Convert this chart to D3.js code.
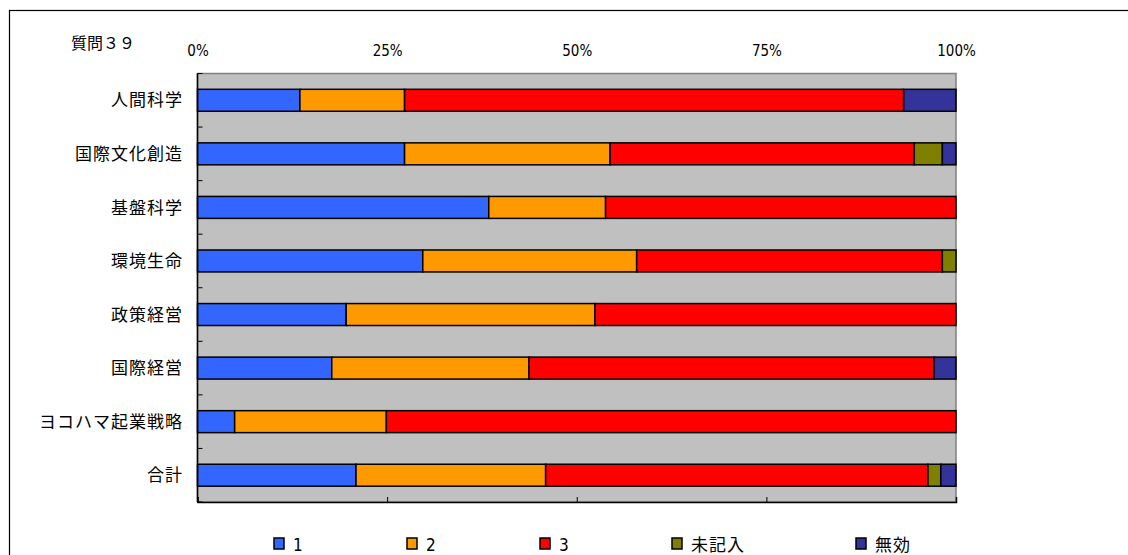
<!DOCTYPE html>
<html>
<head>
<meta charset="utf-8">
<script src="https://cdn.jsdelivr.net/npm/d3@7"></script>
<style>
  html, body { margin: 0; padding: 0; background: #fff; }
  svg { display: block; }
  .jp { font-family: "Noto Sans CJK JP", "Noto Sans", sans-serif; fill: #000; }
  .num { font-family: "DejaVu Sans Condensed", "DejaVu Sans", sans-serif; font-stretch: condensed; fill: #000; }
</style>
</head>
<body>
<svg id="chart" width="1128" height="555"></svg>
<script>
// 質問39: 学部別の回答割合 (%)
const title = "質問３９";
const categories = ["人間科学", "国際文化創造", "基盤科学", "環境生命", "政策経営", "国際経営", "ヨコハマ起業戦略", "合計"];
const seriesKeys = ["1", "2", "3", "未記入", "無効"];
const answer1   = [13.5, 27.3, 38.4, 29.7, 19.6, 17.7,  4.9, 20.9];
const answer2   = [13.8, 27.1, 15.4, 28.2, 32.8, 26.0, 20.0, 25.0];
const answer3   = [65.8, 40.1, 46.2, 40.3, 47.6, 53.4, 75.1, 50.4];
const noAnswer  = [ 0.0,  3.7,  0.0,  1.8,  0.0,  0.0,  0.0,  1.7];
const invalid   = [ 6.9,  1.8,  0.0,  0.0,  0.0,  2.9,  0.0,  2.0];
const tickValues = [0, 25, 50, 75, 100];
const tickLabels = ["0%", "25%", "50%", "75%", "100%"];

const colors = ["#3366FF", "#FF9900", "#FF0000", "#808000", "#333399"];

// rows for d3.stack
const seriesValues = [answer1, answer2, answer3, noAnswer, invalid];
const rows = categories.map((c, i) => {
  const r = { category: c };
  seriesKeys.forEach((k, j) => { r[k] = seriesValues[j][i]; });
  return r;
});

const svg = d3.select("#chart");

// outer frame
svg.append("rect")
  .attr("x", 9.5).attr("y", 10.5)
  .attr("width", 1140).attr("height", 560)
  .attr("fill", "none").attr("stroke", "#000").attr("stroke-width", 1.2);

const plot = { left: 197.5, right: 956, top: 73.5, bottom: 502 };

const x = d3.scaleLinear().domain([0, 100]).range([plot.left, plot.right]);
const y = d3.scaleBand().domain(categories)
  .range([plot.top, plot.bottom])
  .paddingInner(0.59).paddingOuter(0.295);

// plot background
svg.append("rect")
  .attr("x", plot.left).attr("y", plot.top)
  .attr("width", plot.right - plot.left).attr("height", plot.bottom - plot.top)
  .attr("fill", "#C0C0C0").attr("stroke", "#808080").attr("stroke-width", 1.5);

// stacked bars
const stacked = d3.stack().keys(seriesKeys)(rows);
svg.append("g").selectAll("g")
  .data(stacked)
  .join("g")
  .attr("fill", (d, i) => colors[i])
  .selectAll("rect")
  .data(d => d.filter(p => p[1] - p[0] > 0))
  .join("rect")
  .attr("x", d => x(d[0]))
  .attr("y", d => y(d.data.category))
  .attr("width", d => x(d[1]) - x(d[0]))
  .attr("height", y.bandwidth())
  .attr("stroke", "#000")
  .attr("stroke-width", 1.5);

// category boundary ticks on the left axis (pointing inward)
const step = y.step();
const boundaries = d3.range(categories.length + 1).map(i => plot.top + i * step);
svg.append("g").selectAll("line")
  .data(boundaries)
  .join("line")
  .attr("x1", plot.left).attr("x2", plot.left + 5)
  .attr("y1", d => d).attr("y2", d => d)
  .attr("stroke", "#000").attr("stroke-width", 1);

// left axis line
svg.append("line")
  .attr("x1", plot.left).attr("x2", plot.left)
  .attr("y1", plot.top).attr("y2", plot.bottom)
  .attr("stroke", "#000").attr("stroke-width", 1.5);

// bottom axis with inward ticks
const bottomAxis = d3.axisBottom(x).tickValues(tickValues).tickSize(-5).tickFormat("");
const gb = svg.append("g").attr("transform", `translate(0,${plot.bottom})`).call(bottomAxis);
gb.select(".domain").attr("stroke", "#000").attr("stroke-width", 1.5);
gb.selectAll(".tick line").attr("stroke", "#000");

// top percentage labels
const topAxis = d3.axisTop(x).tickValues(tickValues).tickSize(0)
  .tickFormat((d, i) => tickLabels[i]);
const gt = svg.append("g").attr("transform", `translate(0,${plot.top - 17.5})`).call(topAxis);
gt.select(".domain").remove();
gt.selectAll(".tick text")
  .attr("class", "num")
  .attr("font-size", 15)
  .attr("dy", 0)
  .attr("y", 0);

// category labels
svg.append("g").selectAll("text")
  .data(categories)
  .join("text")
  .attr("class", "jp")
  .attr("x", 183)
  .attr("y", d => y(d) + y.bandwidth() / 2)
  .attr("dy", "0.36em")
  .attr("text-anchor", "end")
  .attr("font-size", 17)
  .attr("letter-spacing", "1px")
  .text(d => d);

// title
svg.append("text")
  .attr("class", "jp")
  .attr("x", 71).attr("y", 49)
  .attr("font-size", 16)
  .text(title);

// legend
const legendX = [274, 407, 540, 672, 856];
const lg = svg.append("g").selectAll("g")
  .data(seriesKeys)
  .join("g")
  .attr("transform", (d, i) => `translate(${legendX[i]},538)`);
lg.append("rect")
  .attr("width", 10).attr("height", 11)
  .attr("fill", (d, i) => colors[i])
  .attr("stroke", "#000").attr("stroke-width", 1.5);
lg.append("text")
  .attr("class", d => /^\d+$/.test(d) ? "num" : "jp")
  .attr("x", 19).attr("y", 12.5)
  .attr("font-size", 17)
  .attr("letter-spacing", d => /^\d+$/.test(d) ? "0px" : "1px")
  .text(d => d);
</script>
</body>
</html>
